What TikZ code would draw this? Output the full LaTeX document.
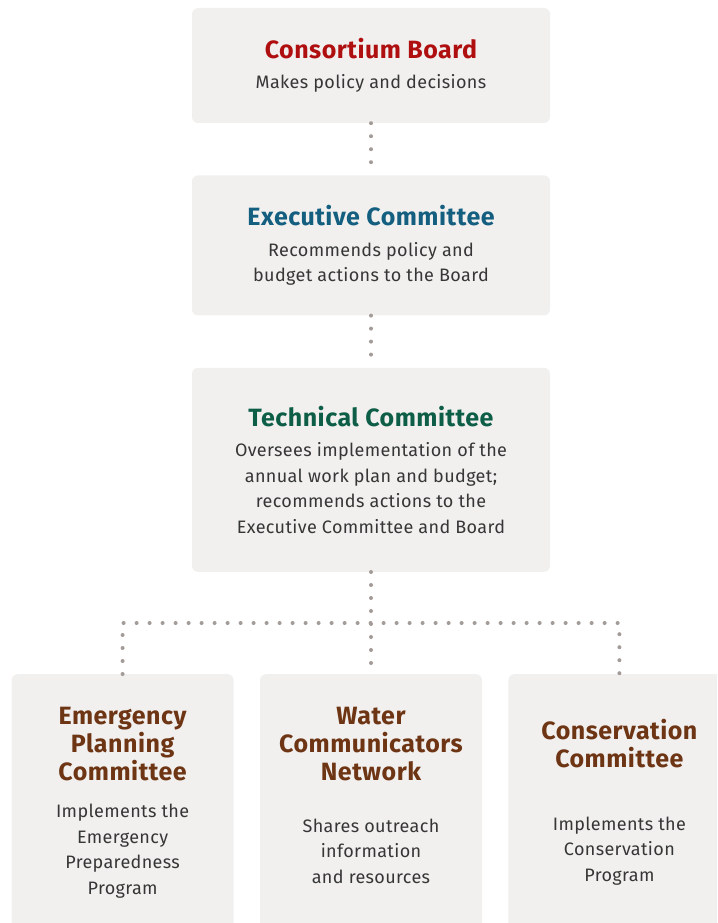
\documentclass[tikz,border=0pt]{standalone}
\usepackage{fontspec}
\setmainfont{Fira Sans}[LetterSpace=2]
\usepackage{xcolor}
\usetikzlibrary{positioning}

\definecolor{boxgray}{HTML}{F1F0EF}
\definecolor{dotgray}{HTML}{A39B97}
\definecolor{textgray}{HTML}{363636}
\definecolor{boardred}{HTML}{B00F10}
\definecolor{execblue}{HTML}{145E80}
\definecolor{techgreen}{HTML}{0E5E47}
\definecolor{committeebrown}{HTML}{6E3514}

\newcommand{\headline}[2]{{\color{#1}\fontsize{25}{28}\selectfont\bfseries #2}}

\begin{document}
\begin{tikzpicture}[x=1pt,y=1pt,node distance=52pt,
    box/.style={fill=boxgray,rounded corners=6pt,minimum width=358pt,inner sep=0pt,
      align=center,text=textgray,font=\fontsize{18}{25.5}\selectfont},
    subbox/.style={box,minimum width=222pt,minimum height=270pt},
    subtitle/.style={align=center,text=committeebrown,inner sep=0pt,
      font=\fontsize{25}{28}\selectfont\bfseries},
    subtext/.style={align=center,text=textgray,inner sep=0pt,
      font=\fontsize{18}{25.5}\selectfont},
    dots/.style={draw=dotgray,line width=4pt,line cap=round,
      dash pattern=on 0pt off 13pt}]
   \useasboundingbox (0,0) rectangle (717,-923);
   \clip (0,0) rectangle (717,-923);
   \node[box,minimum height=115pt] (board) at (371,-65.5)
     {\headline{boardred}{Consortium Board}\\[5pt]
      Makes policy and decisions};
   \node[box,minimum height=140pt] (exec) [below=of board]
     {\headline{execblue}{Executive Committee}\\[5pt]
      Recommends policy and\\ budget actions to the Board};
   \node[box,minimum height=204pt] (tech) [below=of exec]
     {\headline{techgreen}{Technical Committee}\\[5pt]
      Oversees implementation of the\\ annual work plan and budget;\\
      recommends actions to the\\ Executive Committee and Board};
   \node[subbox,anchor=north] (water) at ([yshift=-102pt]tech.south) {};
   \node[subbox] (emerg) [left=26pt of water] {};
   \node[subbox] (conserv) [right=26pt of water] {};
   \coordinate (split) at ([yshift=-51pt]tech.south);
   % titles and texts of the committees
   \node[subtitle] (emergtitle) at ([yshift=-70pt]emerg.north) {Emergency\\Planning\\Committee};
   \node[subtitle] (watertitle) at ([yshift=-70pt]water.north) {Water\\Communicators\\Network};
   \node[subtitle] (conservtitle) at ([yshift=-70pt]conserv.north) {Conservation\\Committee};
   \node[subtext] (emergtext) at ([yshift=-177pt]emerg.north)
     {Implements the\\ Emergency\\ Preparedness\\ Program};
   \node[subtext] (watertext) at ([yshift=-177pt]water.north)
     {Shares outreach\\ information\\ and resources};
   \node[subtext] (conservtext) at ([yshift=-177pt]conserv.north)
     {Implements the\\ Conservation\\ Program};
    \path[dots]
    (board) -- (exec)
    (exec) -- (tech)
    (tech) -- (water)
    (emerg.north) |- (split) -| (conserv.north);
\end{tikzpicture}
\end{document}
